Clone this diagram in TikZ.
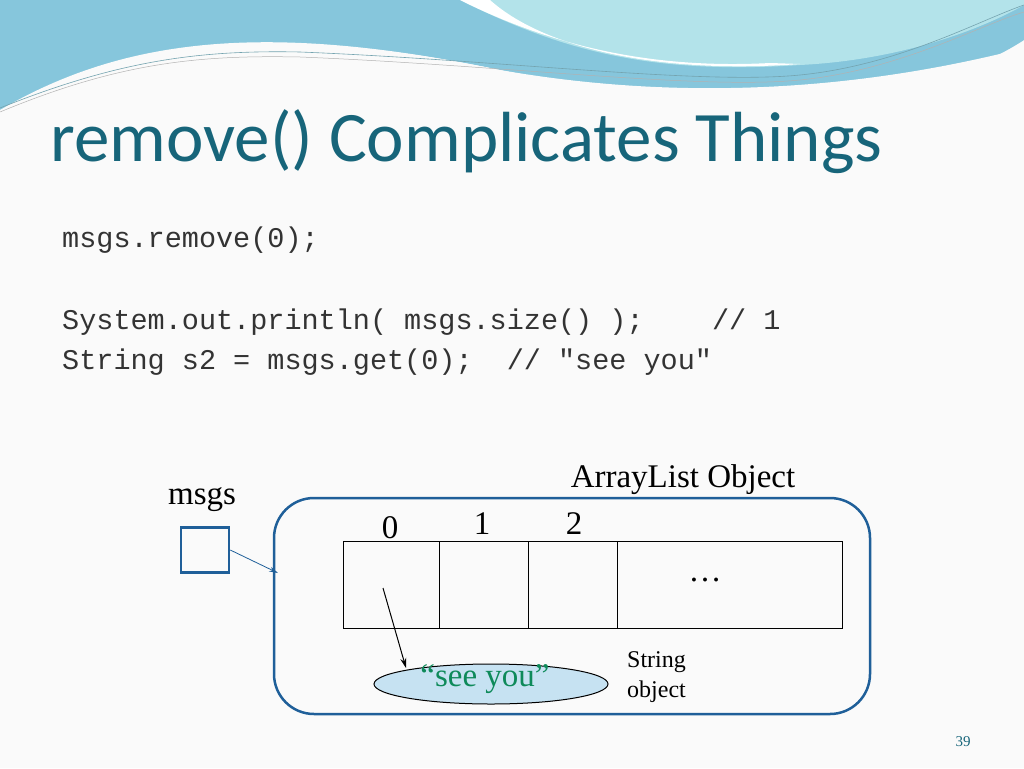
\documentclass[tikz,border=0pt]{standalone}
\usepackage{fontspec}
\usetikzlibrary{shapes.geometric,arrows.meta}
\setmainfont{Liberation Serif}
\newfontfamily\titlefont{Carlito}
\setmonofont{Liberation Mono}
\begin{document}
\begin{tikzpicture}[x=1pt,y=-1pt,
  lbl/.style={inner sep=0pt,font=\fontsize{33}{36}\selectfont},
  code/.style={inner sep=0pt,anchor=west,font=\ttfamily\fontsize{28.5}{30}\selectfont,text=black!80},
  cell/.style={draw=black,line width=1pt}]
\definecolor{bluebox}{HTML}{1F5F99}
\definecolor{teal}{HTML}{17657A}
\definecolor{wave}{HTML}{86C6DC}
\definecolor{wave2}{HTML}{B3E3EA}
\definecolor{ellfill}{HTML}{C6E2F2}
\definecolor{sygreen}{HTML}{0E8A5A}
\fill[black!2] (0,0) rectangle (1024,768);
\useasboundingbox (0,0) rectangle (1024,768);
% top waves
\fill[wave] (0,0) -- (0,110) .. controls (150,50) and (260,20) .. (500,70) .. controls (700,110) and (900,120) .. (1024,40) -- (1024,0) -- cycle;
\fill[wave2] (460,0) .. controls (560,50) and (650,75) .. (800,65) .. controls (900,60) and (980,30) .. (1024,5) -- (1024,0) -- cycle;
\fill[white] (460,0) .. controls (540,40) and (640,70) .. (770,63) -- (800,64) .. controls (650,75) and (540,45) .. (490,0) -- cycle;
\fill[black!2] (0,110) .. controls (120,40) and (260,20) .. (500,70) .. controls (700,105) and (880,85) .. (1024,48) -- (1024,768) -- (0,768) -- cycle;
\draw[teal!60,line width=0.6pt] (0,108) .. controls (120,60) and (200,50) .. (300,52) .. controls (500,60) and (700,85) .. (800,75) .. controls (900,65) and (980,20) .. (1024,5);
\draw[black!30,line width=0.5pt] (0,112) .. controls (120,62) and (200,55) .. (300,57) .. controls (500,65) and (700,90) .. (800,80) .. controls (900,70) and (980,25) .. (1024,12);
% title
\node[anchor=west,inner sep=0pt,text=teal,font=\titlefont\fontsize{71}{76}\selectfont] (title) at (50,142) {remove() Complicates Things};
% code
\node[code] (c1) at (62,240) {msgs.remove(0);};
\node[code] (c2) at (62,322) {System.out.println( msgs.size() );~~~~// 1};
\node[code] (c3) at (62,362) {String s2 = msgs.get(0);~~// "see you"};
% diagram
\draw[bluebox,line width=2.5pt,rounded corners=40pt] (274,498) rectangle (870,714);
\node[lbl] (alo) at (683,480) {ArrayList Object};
\node[lbl] (msgs) at (202,500) {msgs};
\node[draw=bluebox,line width=2.5pt,minimum width=48pt,minimum height=45pt,inner sep=0pt] (box) at (205,550) {};
\coordinate (tgt) at (278,573);
\draw[bluebox,line width=0.8pt,-{Stealth[length=9pt,width=5pt]}] (box.east) -- (tgt);
\draw[cell] (343,541) rectangle (842,628);
\draw[cell] (439,541) -- (439,628) (528,541) -- (528,628) (617,541) -- (617,628);
\node[lbl] (i0) at (390,528) {0};
\node[lbl] (i1) at (482,524) {1};
\node[lbl] (i2) at (574,524) {2};
\node[lbl] (dots) at (705,580) {\dots};
\node[draw=black,line width=1pt,fill=ellfill,ellipse,minimum width=234pt,minimum height=40pt,inner sep=0pt] (str) at (491,684) {};
\node[lbl,text=sygreen] (sy) at (485,679) {``see you''};
\coordinate (p0) at (383,588);
\draw[line width=1pt,-{Stealth[length=10pt,width=6pt]}] (p0) -- (406,668);
\node[inner sep=0pt,anchor=west,align=left,font=\fontsize{24}{30}\selectfont] (so) at (627,677) {String\\object};
\node[inner sep=0pt,text=teal,font=\fontsize{15}{18}\selectfont] (pg) at (963,742) {39};
\end{tikzpicture}
\end{document}
